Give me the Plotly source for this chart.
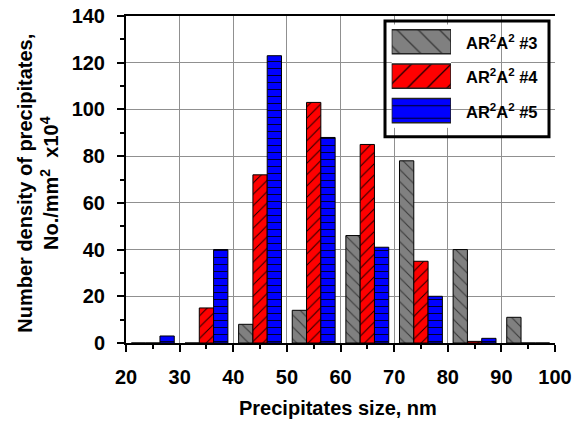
import plotly.graph_objects as go

sizes = [25, 35, 45, 55, 65, 75, 85, 95]
series_names = ["AR<sup>2</sup>A<sup>2</sup> #3", "AR<sup>2</sup>A<sup>2</sup> #4", "AR<sup>2</sup>A<sup>2</sup> #5"]
vals_3 = [0, 0, 8, 14, 46, 78, 40, 11]
vals_4 = [0, 15, 72, 103, 85, 35, 0.7, 0]
vals_5 = [3, 40, 123, 88, 41, 20, 2, 0]
x_ticks = [20, 30, 40, 50, 60, 70, 80, 90, 100]
y_ticks = [0, 20, 40, 60, 80, 100, 120, 140]

colors = ["#808080", "#FF0000", "#0000FF"]
shapes_pat = ["\\", "/", "-"]
pat_fg = ["#3a3a3a", "#1a0000", "#000030"]
pat_size = [8.5, 8, 7]
pat_solid = [0.13, 0.12, 0.15]
leg_pat_size = [15, 14, 12.5]

FONT = "Arial, Liberation Sans, sans-serif"

fig = go.Figure()
for vals, name, c, sh, fg, ps, so in zip([vals_3, vals_4, vals_5], series_names, colors,
                                         shapes_pat, pat_fg, pat_size, pat_solid):
    fig.add_trace(go.Bar(
        x=sizes, y=vals, name=name,
        marker=dict(color=c, line=dict(color="black", width=1),
                    pattern=dict(shape=sh, fgcolor=fg, bgcolor=c, size=ps, solidity=so, fillmode="replace")),
        showlegend=False,
    ))

# custom legend swatches (one bar per series on a small helper axis)
for i, (name, c, sh, fg, ps) in enumerate(zip(series_names, colors, shapes_pat, pat_fg, leg_pat_size)):
    fig.add_trace(go.Bar(
        x=[1], y=[i], orientation="h", width=0.7, xaxis="x2", yaxis="y2",
        marker=dict(color=c, line=dict(color="#222", width=1.5),
                    pattern=dict(shape=sh, fgcolor=fg, bgcolor=c, size=ps, solidity=0.09, fillmode="replace")),
        showlegend=False, hoverinfo="skip",
    ))

W, H = 582, 421
# plot area in page pixels (body margin removed below)
PL, PR, PT, PB = 126, 555, 16, 343.5
L, T = PL, PT
R, B = W - PR, H - PB
pw, ph = PR - PL, PB - PT

def px(xp):
    return (xp - PL) / pw

def py(yp):
    return (PB - yp) / ph

annotations = [
    dict(text="Precipitates size, nm", x=px(337.5), y=py(409), xref="paper", yref="paper",
         showarrow=False, xanchor="center", yanchor="middle",
         font=dict(family=FONT, size=20, color="black", weight="bold")),
    dict(text="Number density of precipitates,<br>No./mm<sup>2</sup>  x10<sup>4</sup>",
         x=px(38), y=py(184), xref="paper", yref="paper", textangle=-90,
         showarrow=False, xanchor="center", yanchor="middle",
         font=dict(family=FONT, size=20, color="black", weight="bold")),
]
leg_centers = [41.7, 76, 110.8]
for name, yc in zip(series_names, leg_centers):
    annotations.append(dict(text=name, x=px(464), y=py(yc), xref="paper", yref="paper",
                            showarrow=False, xanchor="left", yanchor="middle",
                            font=dict(family=FONT, size=16.5, color="black", weight="bold")))

fig.update_layout(
    width=W, height=H,
    margin=dict(l=L, r=R, t=T, b=B, autoexpand=False),
    paper_bgcolor="white", plot_bgcolor="white",
    barmode="group", bargap=0.2, bargroupgap=0,
    font=dict(family=FONT, color="black"),
    xaxis=dict(range=[20, 100], tickvals=x_ticks, ticks="outside", ticklen=7, tickwidth=2,
               tickcolor="black", showline=True, linecolor="black", linewidth=2, mirror=True,
               showgrid=True, gridcolor="#909090", gridwidth=1.2, zeroline=False, automargin=False,
               minor=dict(dtick=5, ticks="outside", ticklen=4, tickwidth=1.5, tickcolor="black", showgrid=False),
               tickfont=dict(family=FONT, size=20, color="black", weight="bold"),
               ticklabelstandoff=8, ticklabeloverflow="allow"),
    yaxis=dict(range=[0, 140], tickvals=y_ticks, ticks="outside", ticklen=7, tickwidth=2,
               tickcolor="black", showline=True, linecolor="black", linewidth=2,
               showgrid=True, gridcolor="#909090", gridwidth=1.2, zeroline=False, automargin=False,
               minor=dict(dtick=10, ticks="outside", ticklen=4, tickwidth=1.5, tickcolor="black", showgrid=False),
               tickfont=dict(family=FONT, size=20, color="black", weight="bold"),
               ticklabelstandoff=8, ticklabeloverflow="allow"),
    xaxis2=dict(domain=[px(391.7), px(451)], range=[0, 1], visible=False, anchor="y2",
                fixedrange=True, automargin=False),
    yaxis2=dict(domain=[py(128), py(24.5)], range=[2.5, -0.5], visible=False, anchor="x2",
                fixedrange=True, automargin=False),
    annotations=annotations,
    shapes=[
        dict(type="rect", xref="paper", yref="paper", x0=px(385), x1=px(549), y0=py(137), y1=py(21),
             fillcolor="white", line=dict(width=0), layer="between"),
        dict(type="rect", xref="paper", yref="paper", x0=px(385), x1=px(549), y0=py(137), y1=py(21),
             fillcolor="rgba(0,0,0,0)", line=dict(color="black", width=3), layer="above"),
    ],
)

fig.write_html("out.html", config={"displayModeBar": False},
               post_script="document.body.style.margin='0';")
